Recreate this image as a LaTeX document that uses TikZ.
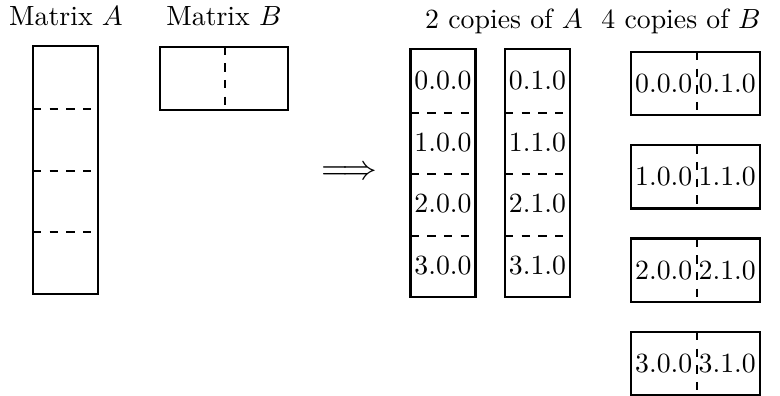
\documentclass[tikz,border=0pt]{standalone}
\usepackage{amsmath}
\usepackage{amssymb}
\usetikzlibrary{positioning}

\begin{document}
\begin{tikzpicture}[x=0.36pt, y=-0.36pt, node distance=22.14pt, on grid, thick,
    blk/.style={inner sep=0pt, minimum width=22.6pt, minimum height=22.14pt},
    half/.style={inner sep=0pt, minimum width=22.86pt, minimum height=22pt},
    title/.style={anchor=base}]
\useasboundingbox (0,0) rectangle (780,395);

% headings
\node (tA)  [title] at (66,25)  {Matrix $A$};
\node (tB)  [title] at (224,25) {Matrix $B$};
\node (tcA) [title] at (504,28) {2 copies of $A$};
\node (tcB) [title] at (681,28) {4 copies of $B$};

% matrix A, four row blocks
\node (a0) [blk] at (65.5,77.5) {};
\node (a1) [blk, below=of a0] {};
\node (a2) [blk, below=of a1] {};
\node (a3) [blk, below=of a2] {};
\draw (a0.north west) rectangle (a3.south east);
\draw[dashed] (a0.south west) -- (a0.south east)
              (a1.south west) -- (a1.south east)
              (a2.south west) -- (a2.south east);

% matrix B, two column blocks
\node (b0) [blk] at (192.5,78.5) {};
\node (b1) [blk, right=22.7pt of b0] {};
\draw (b0.north west) rectangle (b1.south east);
\draw[dashed] (b0.north east) -- (b0.south east);

\node (arr) [scale=1.25] at (349,173) {$\Longrightarrow$};

% copies of A
\node (p0) [blk] at (443,81) {0.0.0};
\node (p1) [blk, below=of p0] {1.0.0};
\node (p2) [blk, below=of p1] {2.0.0};
\node (p3) [blk, below=of p2] {3.0.0};
\node (q0) [blk] at (537.5,81) {0.1.0};
\node (q1) [blk, below=of q0] {1.1.0};
\node (q2) [blk, below=of q1] {2.1.0};
\node (q3) [blk, below=of q2] {3.1.0};
\draw (p0.north west) rectangle (p3.south east);
\draw (q0.north west) rectangle (q3.south east);
\draw[dashed] (p0.south west) -- (p0.south east)
              (p1.south west) -- (p1.south east)
              (p2.south west) -- (p2.south east)
              (q0.south west) -- (q0.south east)
              (q1.south west) -- (q1.south east)
              (q2.south west) -- (q2.south east);

% copies of B
\node (r00) [half] at (663.75,83.5) {0.0.0};
\node (r01) [half, right=22.86pt of r00] {0.1.0};
\node (r10) [half, below=33.6pt of r00] {1.0.0};
\node (r11) [half, right=22.86pt of r10] {1.1.0};
\node (r20) [half, below=33.6pt of r10] {2.0.0};
\node (r21) [half, right=22.86pt of r20] {2.1.0};
\node (r30) [half, below=33.6pt of r20] {3.0.0};
\node (r31) [half, right=22.86pt of r30] {3.1.0};
\draw (r00.north west) rectangle (r01.south east);
\draw (r10.north west) rectangle (r11.south east);
\draw (r20.north west) rectangle (r21.south east);
\draw (r30.north west) rectangle (r31.south east);
\draw[dashed] (r00.north east) -- (r00.south east)
              (r10.north east) -- (r10.south east)
              (r20.north east) -- (r20.south east)
              (r30.north east) -- (r30.south east);
\end{tikzpicture}
\end{document}
